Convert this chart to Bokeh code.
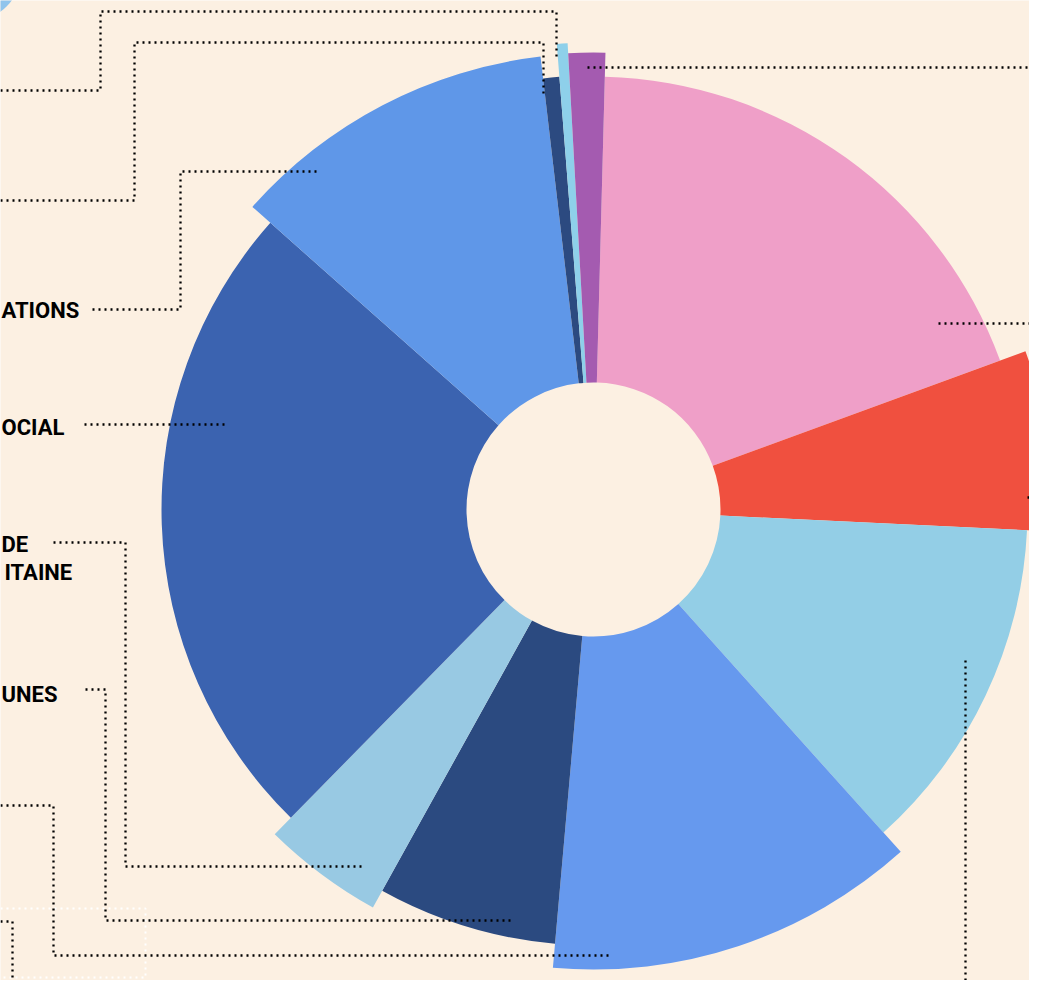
import math
from bokeh.plotting import figure
from bokeh.models import Range1d, ColumnDataSource
from bokeh.core.properties import value
from bokeh.embed import file_html
from bokeh.resources import INLINE

# ---------------- data ----------------
categories = ["rose", "rouge", "bleu clair", "bleu moyen", "marine", "bleu ciel",
              "bleu roi", "bleu vif", "marine (petit)", "cyan (petit)", "violet"]
shares = [19.0, 6.35, 12.6, 13.05, 6.65, 4.3, 24.2, 11.6, 0.6, 0.37, 1.3]
outer_r = [433, 460, 434, 460, 436, 455, 432, 456, 434, 467, 457]
colors = ["#ef9fc8", "#f0503f", "#93cee6", "#6699ee", "#2b4a80", "#98c9e3",
          "#3b63b0", "#5f97e8", "#2c4a80", "#8ed0ea", "#a45bb0"]

label_texts = ["ATIONS", "OCIAL", "DE", "ITAINE", "UNES"]

# ---------------- layout ----------------
PW, PH = 1029, 980        # plot size in pixels
H = 996                   # reference coordinate space height (pixels, y down)
BG = "#fcf0e2"
CX, CY = 593, 509
INNER = 127
START_DEG = 1.5           # first slice starts slightly right of 12 o'clock
DOTS = "2 4"

def fy(y):
    return H - y

p = figure(width=PW, height=PH, x_range=Range1d(0, PW), y_range=Range1d(H - PH, H),
           output_backend="svg", toolbar_location=None, min_border=0,
           x_axis_location=None, y_axis_location=None,
           background_fill_color=BG, border_fill_color=BG, outline_line_color=None)
p.grid.visible = False

# wedges
total = sum(shares)
starts, ends = [], []
cum = START_DEG
for s in shares:
    t1 = cum
    t2 = cum + s / total * 360.0
    starts.append(math.radians(90 - t2))
    ends.append(math.radians(90 - t1))
    cum = t2

src = ColumnDataSource(dict(cat=categories, x=[CX] * len(shares), y=[fy(CY)] * len(shares),
                            r=outer_r, start=starts, end=ends, color=colors))
p.annular_wedge(x="x", y="y", inner_radius=INNER, outer_radius="r",
                start_angle="start", end_angle="end", direction="anticlock",
                fill_color="color", line_color=None, source=src)

# decorative circle fragment top-left
p.circle(x=[-30], y=[fy(-30)], radius=51, fill_color="#90c4ec", line_color=None)

# white dotted box bottom-left
box = [(0, 908), (145, 908), (145, 977), (0, 977)]
p.line([a for a, b in box], [fy(b) for a, b in box], line_color="#ffffff",
       line_width=2, line_dash=DOTS)

# black dotted leader lines
leaders = [
    [(0, 90), (100, 90), (100, 11), (556, 11), (556, 57)],
    [(0, 200), (134, 200), (134, 42), (543, 42), (543, 97)],
    [(92, 309), (180, 309), (180, 171), (320, 171)],
    [(84, 424), (225, 424)],
    [(53, 542), (125, 542), (125, 866), (365, 866)],
    [(85, 689), (105, 689), (105, 920), (510, 920)],
    [(0, 805), (53, 805), (53, 955), (608, 955)],
    [(0, 921), (12, 921), (12, 996)],
    [(587, 67), (1045, 67)],
    [(938, 323), (1045, 323)],
    [(1027, 497), (1045, 497)],
    [(965, 660), (965, 996)],
]
for pts in leaders:
    p.line([a for a, b in pts], [fy(b) for a, b in pts], line_color="#000000",
           line_width=2.3, line_dash=DOTS)

# labels (their beginnings lie beyond the left edge in the original)
label_left = [1, 1, 1, 4, 1]
label_mid = [310, 427, 544, 572, 694]
p.text(x=label_left, y=[fy(b) for b in label_mid], text=label_texts,
       text_font=value("Roboto"), text_font_style="bold",
       text_font_size="22px", text_align="left", text_baseline="middle",
       text_color="#000000")

html = file_html(p, INLINE)
open("out.html", "w").write(html)
